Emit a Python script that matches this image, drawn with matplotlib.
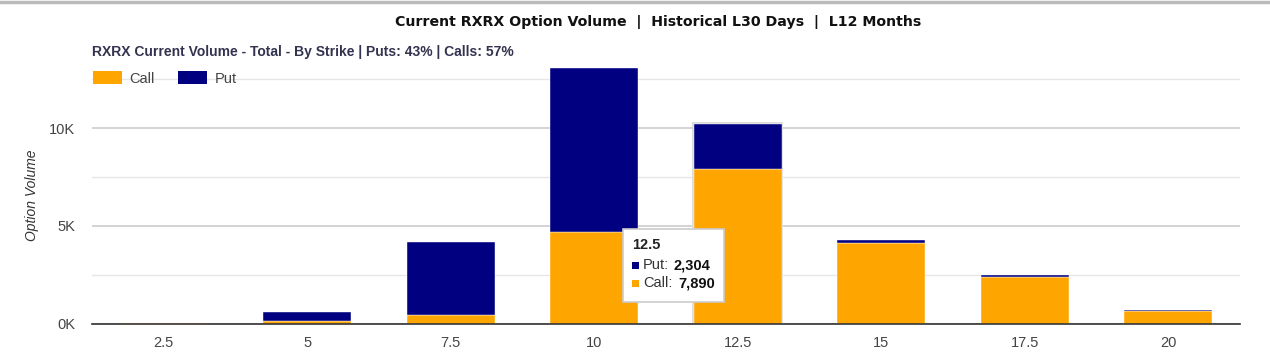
import matplotlib.pyplot as plt
from matplotlib.patches import Patch, Rectangle
from matplotlib.ticker import MultipleLocator, FuncFormatter

plt.rcParams['font.family'] = ['Liberation Sans', 'DejaVu Sans']

strikes = ['2.5', '5', '7.5', '10', '12.5', '15', '17.5', '20']
calls = [40, 130, 420, 4670, 7890, 4130, 2360, 620]
puts = [0, 450, 3730, 8410, 2304, 140, 110, 60]
hover = '12.5'

call_color = '#FFA500'
put_color = '#000080'

W, H = 1270, 356
fig = plt.figure(figsize=(W / 100, H / 100), dpi=100)


def fx(px):
    return px / W


def fy(py):
    return 1 - py / H


ax = fig.add_axes([fx(92), fy(323.5), 1148 / W, 256 / H])

x = list(range(len(strikes)))
hi = strikes.index(hover)
# hover shadow on the highlighted column
ax.bar(hi, calls[hi] + puts[hi] + 120, width=0.635, color='#dcdcdc', zorder=1.8)
ax.bar(x, calls, width=0.615, color=call_color, edgecolor='white', linewidth=0.3, zorder=2)
ax.bar(x, puts, width=0.615, bottom=calls, color=put_color, edgecolor='white', linewidth=0.3, zorder=2)

ax.set_xlim(-0.5, len(strikes) - 0.5)
ax.set_ylim(0, 13100)
ax.set_xticks(x)
ax.set_xticklabels(strikes)
ax.yaxis.set_major_locator(MultipleLocator(5000))
ax.yaxis.set_minor_locator(MultipleLocator(2500))
ax.yaxis.set_major_formatter(FuncFormatter(lambda v, p: '%dK' % (v / 1000)))
ax.set_axisbelow(True)
ax.grid(axis='y', which='major', color='#cccccc', linewidth=1.2)
ax.grid(axis='y', which='minor', color='#e6e6e6', linewidth=1)
ax.tick_params(axis='both', which='both', length=0, labelsize=10.5, colors='#444444')
ax.tick_params(axis='y', pad=12)
ax.tick_params(axis='x', pad=9)
for s in ['top', 'right', 'left']:
    ax.spines[s].set_visible(False)
ax.spines['bottom'].set_color('#333333')
ax.spines['bottom'].set_linewidth(1.2)
ax.spines['bottom'].set_zorder(5)
ax.set_ylabel('Option Volume', fontsize=10, style='italic', color='#333333', labelpad=7)

# title / subtitle
fig.text(fx(658), fy(22), 'Current RXRX Option Volume  |  Historical L30 Days  |  L12 Months',
         ha='center', va='center', fontsize=10.2, fontweight='bold', color='#111111', family='DejaVu Sans')
fig.text(fx(92), fy(52), 'RXRX Current Volume - Total - By Strike | Puts: 43% | Calls: 57%',
         ha='left', va='center', fontsize=10, fontweight='bold', color='#333350')
fig.add_artist(plt.Line2D([0, 1], [fy(2), fy(2)], color='#bbbbbb', linewidth=2.5))

handles = [Patch(facecolor=call_color, label='Call'), Patch(facecolor=put_color, label='Put')]
leg = fig.legend(handles=handles, loc='center left', bbox_to_anchor=(fx(93), fy(78.5)), ncol=2, frameon=False,
                 fontsize=10.5, handlelength=2.0, handleheight=0.9, columnspacing=1.6, handletextpad=0.5,
                 borderpad=0, borderaxespad=0)
for t in leg.get_texts():
    t.set_color('#444444')

# tooltip
fig.add_artist(Rectangle((fx(623), fy(302)), 101 / W, 73 / H, transform=fig.transFigure,
                         facecolor='white', edgecolor='#cccccc', linewidth=1.2, zorder=10))
fig.text(fx(632), fy(245), hover, fontsize=10.5, fontweight='bold', color='#222222', va='center', zorder=11)
fig.add_artist(Rectangle((fx(632), fy(268.5)), 7 / W, 7 / H, transform=fig.transFigure,
                         facecolor=put_color, zorder=11))
fig.text(fx(643), fy(265), 'Put:', fontsize=10.5, color='#333333', va='center', zorder=11)
fig.text(fx(674), fy(265), '{:,}'.format(puts[hi]), fontsize=10.5, fontweight='bold', color='#111111',
         va='center', zorder=11)
fig.add_artist(Rectangle((fx(632), fy(286.5)), 7 / W, 7 / H, transform=fig.transFigure,
                         facecolor=call_color, zorder=11))
fig.text(fx(643), fy(283), 'Call:', fontsize=10.5, color='#333333', va='center', zorder=11)
fig.text(fx(678), fy(283), '{:,}'.format(calls[hi]), fontsize=10.5, fontweight='bold', color='#111111',
         va='center', zorder=11)

fig.savefig('out.png', dpi=100)
